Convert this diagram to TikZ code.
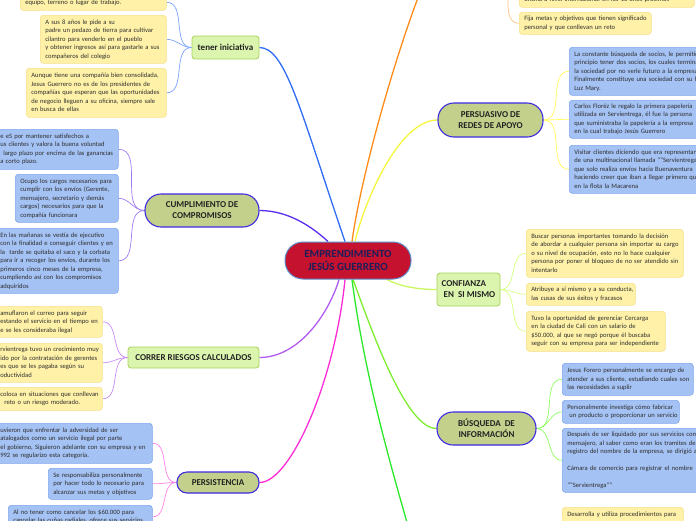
\documentclass[tikz,border=0pt]{standalone}
\usepackage{fontspec}
\setmainfont{Carlito}
\usetikzlibrary{backgrounds}
\newcommand\txl[1]{\begin{tabular}{@{}l@{}}#1\end{tabular}}
\definecolor{yfill}{HTML}{FFF2A8}
\definecolor{ybord}{HTML}{F6E08A}
\definecolor{bfill}{HTML}{A4C2F4}
\definecolor{bbord}{HTML}{7EA6EE}
\definecolor{gfill}{HTML}{DCF5AE}
\definecolor{gbord}{HTML}{A6D25B}
\definecolor{pfill}{HTML}{C2D08C}
\definecolor{pbord}{HTML}{3F2BE0}
\definecolor{rfill}{HTML}{C4122F}
\definecolor{rbord}{HTML}{5A8FC9}
\definecolor{rtext}{HTML}{1E1E5A}
\definecolor{txtc}{HTML}{2E2E2E}
\definecolor{topc}{HTML}{222222}
\definecolor{cblue}{HTML}{2E6CF6}
\definecolor{corange}{HTML}{FF8C1A}
\definecolor{cyellow}{HTML}{F5F53A}
\definecolor{cpurple}{HTML}{5A2DF0}
\definecolor{cviolet}{HTML}{B15CF2}
\definecolor{cmagenta}{HTML}{FF2BD6}
\definecolor{cgreen}{HTML}{2BE82B}
\definecolor{cchart}{HTML}{7CEE2E}
\definecolor{clight}{HTML}{C8F85A}
\definecolor{sblue}{HTML}{7BA3FF}
\definecolor{spurple}{HTML}{9E7BF7}
\definecolor{sviolet}{HTML}{C98AF7}
\definecolor{smagenta}{HTML}{FF80EA}
\definecolor{sorange}{HTML}{FFC280}
\definecolor{syellow}{HTML}{FFFF5A}
\definecolor{slight}{HTML}{D4FF80}
\definecolor{sgreen}{HTML}{8CFF60}
\begin{document}
\begin{tikzpicture}[x=1pt,y=-1pt,
  box/.style={anchor=north west, align=left, rounded corners=3pt, line width=0.6pt,
    inner xsep=5pt, inner ysep=2pt, font=\fontsize{6.6}{8.5}\selectfont, text=txtc},
  ybox/.style={box, draw=ybord, fill=yfill},
  bbox/.style={box, draw=bbord, fill=bfill},
  gtopic/.style={draw=gbord, fill=gfill, rounded corners=3pt, line width=0.8pt,
    font=\bfseries\fontsize{9}{11}\selectfont, text=topc, align=center, inner sep=1pt},
  ptopic/.style={draw=pbord, fill=pfill, line width=1.1pt,
    font=\bfseries\fontsize{9}{11}\selectfont, text=topc, align=center, inner sep=1pt},
  rootbox/.style={draw=rbord, fill=rfill, line width=1pt, rounded corners=18pt,
    font=\bfseries\fontsize{11}{13.5}\selectfont, text=rtext, align=center,
    minimum width=126, minimum height=37, inner sep=1pt},
  mainc/.style={line width=1.3pt},
  subc/.style={line width=0.7pt}
]
\useasboundingbox (0,0) rectangle (696,520);
\clip (0,0) rectangle (696,520);

% central node
\node[rootbox] (root) at (348,260.5) {EMPRENDIMIENTO\\JESÚS GUERRERO};

% main topics
\node[gtopic, minimum width=67, minimum height=23] (tener) at (225.5,47.5) {tener iniciativa};
\node[ptopic, minimum width=114, minimum height=33, rounded corners=16pt] (cumpl) at (202,210.5) {CUMPLIMIENTO DE\\COMPROMISOS};
\node[gtopic, minimum width=131, minimum height=21] (correr) at (193.5,357.5) {CORRER RIESGOS CALCULADOS};
\node[ptopic, minimum width=82, minimum height=21, rounded corners=10pt] (persist) at (218,482.5) {PERSISTENCIA};
\node[ptopic, minimum width=105, minimum height=34, rounded corners=16pt] (persuas) at (490.5,120) {PERSUASIVO DE\\REDES DE APOYO};
\node[gtopic, minimum width=63, minimum height=33, align=left] (conf) at (468.5,289.5) {CONFIANZA\\\ EN\ \ SI MISMO};
\node[ptopic, minimum width=99, minimum height=33, rounded corners=16pt] (busq) at (486.5,428.5) {BÚSQUEDA\ \ DE\\INFORMACIÓN};

% off-picture branch ends
\coordinate (otopic) at (425,-20);
\coordinate (oparent) at (497,-30);
\coordinate (gtopicc) at (412,540);

% tener iniciativa boxes
\node[ybox, text width=136, minimum height=16] (t0) at (20,-6) {\txl{equipo, terreno o lugar de trabajo.}};
\node[ybox, text width=116, minimum height=48] (t1) at (40,15) {\txl{A sus 8 años le pide a su\\ padre un pedazo de tierra para cultivar\\ cilantro para venderlo en el pueblo\\ y obtener ingresos así para gastarle a sus\\ compañeros del colegio}};
\node[ybox, text width=130, minimum height=49] (t2) at (26,68) {\txl{Aunque tiene una compañía bien consolidada,\\ Jesus Guerrero no es de los presidentes de\\ compañías que esperan que las oportunidades\\ de negocio lleguen a su oficina, siempre sale\\ en busca de ellas}};

% cumplimiento boxes
\node[bbox, text width=113, minimum height=40] (c1) at (-5,129) {\txl{e eS por mantener satisfechos a\\ us clientes y valora la buena voluntad\\ \hspace*{3pt}largo plazo por encima de las ganancias\\ a corto plazo.}};
\node[bbox, text width=93, minimum height=48] (c2) at (15,174) {\txl{Ocupo los cargos necesarios para\\ cumplir con los envíos (Gerente,\\ mensajero, secretario y demás\\ cargos) necesarios para que la\\ compañía funcionara}};
\node[bbox, text width=113, minimum height=65] (c3) at (-5,228) {\txl{En las mañanas se vestía de ejecutivo\\ con la finalidad e conseguir clientes y en\\ la\ \ tarde se quitaba el saco y la corbata\\ para ir a recoger los envíos, durante los\\ primeros cinco meses de la empresa,\\ cumpliendo así con los compromisos\\ adquiridos}};

% correr boxes
\node[ybox, text width=97, minimum height=31] (r1) at (-5,306) {\txl{amuflaron el correo para seguir\\ estando el servicio en el tiempo en\\ e se les consideraba ilegal}};
\node[ybox, text width=97, minimum height=39] (r2) at (-5,343) {\txl{rvientrega tuvo un crecimiento muy\\ ido por la contratación de gerentes\\ es que se les pagaba según su\\ oductividad}};
\node[ybox, text width=97, minimum height=23] (r3) at (-5,387) {\txl{coloca en situaciones que conllevan\\ \hspace*{4pt}reto o un riesgo moderado.}};

% persistencia boxes
\node[bbox, text width=147, minimum height=40] (p1) at (-5,423) {\txl{uvieron que enfrentar la adversidad de ser\\ atalogados como un servicio ilegal por parte\\ el gobierno, Siguieron adelante con su empresa y en\\ 992 se regularizo esta categoría.}};
\node[bbox, text width=94, minimum height=31] (p2) at (48,468) {\txl{Se responsabiliza personalmente\\ por hacer todo lo necesario para\\ alcanzar sus metas y objetivos}};
\node[bbox, text width=134, inner ysep=3pt] (p3) at (8,505) {\txl{Al no tener como cancelar los \$60.000 para\\ cancelar las cuñas radiales, ofrece sus servicios}};

% orange branch boxes
\node[ybox, text width=165, minimum height=15] (o1) at (519,-8) {\txl{oficina a nivel internacional en los 10 años próximos}};
\node[ybox, text width=122, minimum height=22] (o2) at (519,12) {\txl{Fija metas y objetivos que tienen significado\\ personal y que conllevan un reto}};

% persuasivo boxes
\node[bbox, text width=151, minimum height=48] (s1) at (569,47) {\txl{La constante búsqueda de socios, le permitió al\\ principio tener dos socios, los cuales terminaron\\ la sociedad por no verle futuro a la empresa.\\ Finalmente constituye una sociedad con su hermana\\ Luz Mary.}};
\node[bbox, text width=151, minimum height=38] (s2) at (569,100) {\txl{Carlos Floréz le regalo la primera papelería\\ utilizada en Servientrega, él fue la persona\\ que suministraba la papelería a la empresa\\ en la cual trabajo Jesús Guerrero}};
\node[bbox, text width=151, minimum height=48] (s3) at (569,145) {\txl{Visitar clientes diciendo que era representante\\ de una multinacional llamada ""Servientrega""\\ que solo realiza envíos hacia Buenaventura\\ haciendo creer que iban a llegar primero que\\ en la flota la Macarena}};

% confianza boxes
\node[ybox, text width=147, minimum height=48] (f1) at (526,229) {\txl{Buscar personas importantes tomando la decisión\\ de abordar a cualquier persona sin importar su cargo\\ o su nivel de ocupación, esto no lo hace cualquier\\ persona por poner el bloqueo de no ser atendido sin\\ intentarlo}};
\node[ybox, text width=99, minimum height=22] (f2) at (526,283) {\txl{Atribuye a sí mismo y a su conducta,\\ las cusas de sus éxitos y fracasos}};
\node[ybox, text width=129, minimum height=40] (f3) at (526,311) {\txl{Tuvo la oportunidad de gerenciar Cercarga\\ en la ciudad de Cali con un salario de\\ \$50.000, al que se negó porque él buscaba\\ seguir con su empresa para ser independiente}};

% busqueda boxes
\node[bbox, text width=121, minimum height=32] (b1) at (562,363) {\txl{Jesus Forero personalmente se encargo de\\ atender a sus cliente, estudiando cuales son\\ las necesidades a suplir}};
\node[bbox, text width=107, minimum height=23] (b2) at (562,400) {\txl{Personalmente investiga cómo fabricar\\ \hspace*{2pt}un producto o proporcionar un servicio}};
\node[bbox, text width=158, minimum height=64] (b3) at (562,428) {\txl{Después de ser liquidado por sus servicios como\\ mensajero, al saber como eran los tramites de\\ registro del nombre de la empresa, se dirigió a la\\ \\ Cámara de comercio para registrar el nombre\\ \\ ""Servientrega""}};

% bottom-right box of the off-picture branch
\node[ybox, text width=111, inner ysep=3pt] (d1) at (562,507) {\txl{Desarrolla y utiliza procedimientos para\\ \phantom{x}}};

\begin{pgfonlayer}{background}
% main connectors
\draw[mainc, cblue] (tener.east) .. controls +(26,0) and +(-45,-132) .. ([xshift=-3pt]root.north);
\draw[mainc, corange] ([xshift=4pt]root.north) .. controls +(10,-72) and +(-25,60) .. (otopic);
\draw[mainc, cyellow] ([xshift=7pt]root.north) .. controls +(10,-42) and +(-38,0) .. (persuas.west);
\draw[mainc, cpurple] ([xshift=-20pt]root.north) .. controls +(-13,-12) and +(31,0) .. (cumpl.east);
\draw[mainc, cviolet] ([xshift=-9pt]root.south) .. controls +(-9,31) and +(41,0) .. (correr.east);
\draw[mainc, cmagenta] ([xshift=-3pt]root.south) .. controls +(-10,101) and +(31,0) .. (persist.east);
\draw[mainc, cgreen] ([xshift=4pt]root.south) .. controls +(13,101) and +(-17,-60) .. (gtopicc);
\draw[mainc, cchart] ([xshift=5pt]root.south) .. controls +(20,55) and +(-30,0) .. (busq.west);
\draw[mainc, clight] ([xshift=39pt]root.south) .. controls +(15,8) and +(-15,0) .. (conf.west);
% child connectors
\foreach \c in {t0,t1,t2} \draw[subc, sblue] (tener.west) to[out=180,in=0] (\c.east);
\foreach \c in {c1,c2,c3} \draw[subc, spurple] (cumpl.west) to[out=180,in=0] (\c.east);
\foreach \c in {r1,r2,r3} \draw[subc, sviolet] (correr.west) to[out=180,in=0] (\c.east);
\foreach \c in {p1,p2,p3} \draw[subc, smagenta] (persist.west) to[out=180,in=0] (\c.east);
\foreach \c in {o1,o2} \draw[subc, sorange] (oparent) to[out=0,in=180] (\c.west);
\foreach \c in {s1,s2,s3} \draw[subc, syellow] (persuas.east) to[out=0,in=180] (\c.west);
\foreach \c in {f1,f2,f3} \draw[subc, slight] (conf.east) to[out=0,in=180] (\c.west);
\foreach \c in {b1,b2,b3} \draw[subc, sgreen] (busq.east) to[out=0,in=180] (\c.west);
\end{pgfonlayer}
\end{tikzpicture}
\end{document}
